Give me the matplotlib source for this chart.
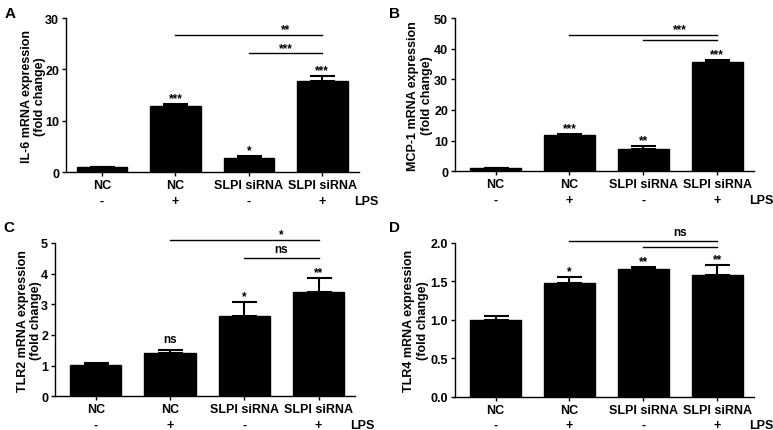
import matplotlib
matplotlib.use("Agg")
import matplotlib.pyplot as plt

plt.rcParams["font.family"] = ["Liberation Sans", "DejaVu Sans"]
plt.rcParams["font.weight"] = "bold"
plt.rcParams["font.size"] = 9

# ---- data ----
categories = ["NC", "NC", "SLPI siRNA", "SLPI siRNA"]
lpsSigns = ["-", "+", "-", "+"]

il6Means = [1.0, 12.8, 2.8, 17.7]
il6Errors = [0.12, 0.5, 0.3, 1.1]
il6Stars = ["", "***", "*", "***"]
il6Pairs = [(1, 3, "**"), (2, 3, "***")]

mcp1Means = [1.0, 11.9, 7.3, 35.5]
mcp1Errors = [0.1, 0.3, 0.95, 0.9]
mcp1Stars = ["", "***", "**", "***"]
mcp1Pairs = [(1, 3, "***"), (2, 3, "")]

tlr2Means = [1.02, 1.40, 2.61, 3.39]
tlr2Errors = [0.06, 0.10, 0.46, 0.46]
tlr2Stars = ["", "ns", "*", "**"]
tlr2Pairs = [(1, 3, "*"), (2, 3, "ns")]

tlr4Means = [1.00, 1.48, 1.66, 1.58]
tlr4Errors = [0.05, 0.08, 0.03, 0.13]
tlr4Stars = ["", "*", "**", "**"]
tlr4Pairs = [(1, 3, "ns"), (2, 3, "")]

W, H = 773, 431
BOLD = "bold"
LABEL_SIZE = 9


def drawPanel(fig, rect, letter, letterPos, yLabel, yLabelX, means, errors, stars,
              pairs, levels, yTicks, tickFormat, xLim):
    ax = fig.add_axes(rect)
    xs = list(range(len(means)))
    ax.bar(xs, means, width=0.69, color="black", edgecolor="black", zorder=2)
    ax.errorbar(xs, means, yerr=[[0] * len(errors), errors], fmt="none",
                ecolor="black", elinewidth=1.5, capsize=9, capthick=1.5, zorder=1)

    ax.set_xlim(xLim)
    ax.set_ylim(yTicks[0], yTicks[-1])
    ax.set_yticks(yTicks)
    ax.set_yticklabels([tickFormat.format(t) for t in yTicks], fontweight=BOLD)
    ax.set_xticks(xs)
    ax.set_xticklabels(categories, fontweight=BOLD)
    for side in ["top", "right"]:
        ax.spines[side].set_visible(False)
    for side in ["left", "bottom"]:
        ax.spines[side].set_linewidth(1.0)
    ax.tick_params(axis="both", length=3, width=1.0, pad=2, labelsize=LABEL_SIZE)

    # LPS row
    for x, sign in zip(xs, lpsSigns):
        ax.annotate(sign, xy=(x, 0), xycoords=("data", "axes fraction"),
                    xytext=(0, -20.5), textcoords="offset points",
                    ha="center", va="center", fontsize=LABEL_SIZE, fontweight=BOLD)
    ax.annotate("LPS", xy=(1, 0), xycoords="axes fraction",
                xytext=(5.5, -20.5), textcoords="offset points",
                ha="center", va="center", fontsize=LABEL_SIZE, fontweight=BOLD)

    # stars above the bars
    for x, m, e, s in zip(xs, means, errors, stars):
        if s:
            off = 6 if s == "ns" else 2
            ax.annotate(s, xy=(x, m + e), xytext=(0, off), textcoords="offset points",
                        ha="center", va="baseline", fontsize=8.5, fontweight=BOLD)

    # comparison lines
    for (a, b, s), level in zip(pairs, levels):
        ax.plot([a, b], [level, level], color="black", lw=1.0, clip_on=False)
        if s:
            off = 4.5 if s == "ns" else 2
            ax.annotate(s, xy=(2.5, level), xytext=(0, off), textcoords="offset points",
                        ha="center", va="baseline", fontsize=8.5, fontweight=BOLD,
                        annotation_clip=False)

    ax.text(yLabelX, 0.5, yLabel, rotation=90, ha="center", va="center",
            transform=ax.transAxes, fontsize=LABEL_SIZE, fontweight=BOLD, linespacing=1.15)
    fig.text(letterPos[0] / W, 1 - letterPos[1] / H, letter, fontsize=11,
             fontweight=BOLD, ha="center", va="center")
    return ax


def main():
    fig = plt.figure(figsize=(W / 100, H / 100), dpi=100)

    drawPanel(fig, [66 / W, 1 - 173.3 / H, 293 / W, 154.3 / H], "A", (10.5, 14),
              "IL-6 mRNA expression\n(fold change)", -0.112,
              il6Means, il6Errors, il6Stars, il6Pairs, [26.7, 23.1],
              [0, 10, 20, 30], "{:g}", (-0.49, 3.5))
    drawPanel(fig, [455 / W, 1 - 172.3 / H, 299 / W, 153.3 / H], "B", (395, 14),
              "MCP-1 mRNA expression\n(fold change)", -0.117,
              mcp1Means, mcp1Errors, mcp1Stars, mcp1Pairs, [44.6, 42.7],
              [0, 10, 20, 30, 40, 50], "{:g}", (-0.55, 3.5))
    drawPanel(fig, [55 / W, 1 - 397.3 / H, 300 / W, 153.3 / H], "C", (9, 228.5),
              "TLR2 mRNA expression\n(fold change)", -0.085,
              tlr2Means, tlr2Errors, tlr2Stars, tlr2Pairs, [5.11, 4.51],
              [0, 1, 2, 3, 4, 5], "{:g}", (-0.55, 3.49))
    drawPanel(fig, [455 / W, 1 - 397.7 / H, 299 / W, 153.7 / H], "D", (394.5, 228.5),
              "TLR4 mRNA expression\n(fold change)", -0.131,
              tlr4Means, tlr4Errors, tlr4Stars, tlr4Pairs, [2.02, 1.95],
              [0.0, 0.5, 1.0, 1.5, 2.0], "{:.1f}", (-0.55, 3.5))

    fig.savefig("out.png", dpi=100)


main()
